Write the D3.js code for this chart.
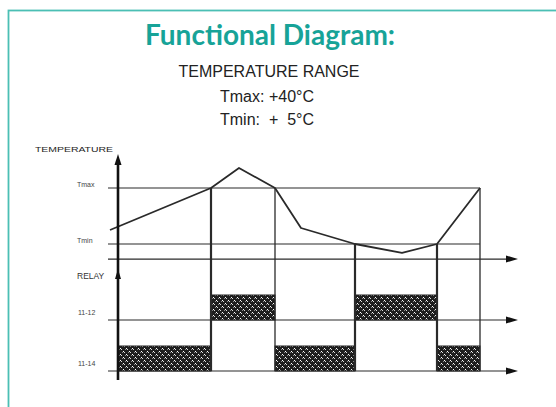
<!DOCTYPE html>
<html>
<head>
<meta charset="utf-8">
<script src="https://cdn.jsdelivr.net/npm/d3@7"></script>
<style>
  html, body { margin: 0; padding: 0; background: #fff; }
  svg { display: block; }
</style>
</head>
<body>
<div id="chart"></div>
<script>
// data
var timePts = [-2, 23.25, 30.25, 39.25, 45.75, 59.25, 71, 79.75, 90.5];
var tempVals = [13.75, 40, 52.5, 40, 15, 5, -0.6, 5, 40];
var levelNames = ["Tmax", "Tmin"];
var levelVals = [40, 5];
var switchTimes = [23.25, 39.25, 59.25, 79.75, 90.5];
var switchLevels = [40, 40, 5, 5, 40];
var relayNames = ["11-12", "11-14"];
var relay1112 = [[23.25, 39.25], [59.25, 79.75]];
var relay1114 = [[0, 23.25], [39.25, 59.25], [79.75, 90.5]];

var svgWidth = 556;
var svgHeight = 407;

var svg = d3.select("#chart")
  .append("svg")
  .attr("width", svgWidth)
  .attr("height", svgHeight);

// hatch pattern for the relay bars (dark with white diamond dots)
var defs = svg.append("defs");
var pat = defs.append("pattern")
  .attr("id", "hatch")
  .attr("patternUnits", "userSpaceOnUse")
  .attr("width", 6)
  .attr("height", 6);
pat.append("rect").attr("width", 6).attr("height", 6).attr("fill", "#1e1e1e");
[[0, 0], [3, 3], [1, 1], [4, 4], [2, 4], [5, 1]].forEach(function(p, i) {
  pat.append("rect")
    .attr("x", p[0]).attr("y", p[1])
    .attr("width", 1).attr("height", 1)
    .attr("fill", i < 2 ? "#fff" : (i < 4 ? "#d8d8d8" : "#8a8a8a"));
});

// teal frame
svg.append("rect")
  .attr("x", 8.5).attr("y", 10.5)
  .attr("width", 600).attr("height", 500)
  .attr("fill", "none")
  .attr("stroke", "#4bbfb4")
  .attr("stroke-width", 1.8);

// header texts
svg.append("text")
  .attr("x", 270).attr("y", 45)
  .attr("text-anchor", "middle")
  .attr("font-family", "Lato, 'Open Sans', sans-serif")
  .attr("font-weight", "bold")
  .attr("font-size", "28px")
  .attr("fill", "#17a398")
  .text("Functional Diagram:");

svg.append("text")
  .attr("x", 269).attr("y", 77)
  .attr("text-anchor", "middle")
  .attr("font-family", "'Liberation Sans', Arial, sans-serif")
  .attr("font-size", "16px")
  .attr("fill", "#222")
  .text("TEMPERATURE RANGE");

svg.append("text")
  .attr("x", 267).attr("y", 102)
  .attr("text-anchor", "middle")
  .attr("font-family", "'Liberation Sans', Arial, sans-serif")
  .attr("font-size", "16px")
  .attr("fill", "#222")
  .text("Tmax: +40°C");

svg.append("text")
  .attr("x", 267).attr("y", 125)
  .attr("text-anchor", "middle")
  .attr("font-family", "'Liberation Sans', Arial, sans-serif")
  .attr("font-size", "16px")
  .attr("fill", "#222")
  .style("white-space", "pre")
  .text("Tmin:  +  5°C");

// scales
var xScale = d3.scaleLinear().domain([0, 100]).range([118, 518]);
var yTemp = d3.scaleLinear().domain([5, 40]).range([244, 188]);
var baseY = yTemp(-4.4);
var yRelay = d3.scalePoint().domain(relayNames).range([320, 371]);
var barH = 25;
var lineEnd = 508;
var levelEnd = xScale(90.5);
var ink = "#2a2a2a";

var g = svg.append("g");

// temperature level lines (Tmax / Tmin)
g.selectAll(".level")
  .data(levelVals)
  .enter()
  .append("line")
  .attr("x1", 108).attr("x2", levelEnd)
  .attr("y1", d => yTemp(d)).attr("y2", d => yTemp(d))
  .attr("stroke", ink).attr("stroke-width", 1.2);

// time axis + relay lines
var hLines = [baseY].concat(relayNames.map(d => yRelay(d)));
g.selectAll(".hline")
  .data(hLines)
  .enter()
  .append("line")
  .attr("x1", 108).attr("x2", lineEnd)
  .attr("y1", d => d).attr("y2", d => d)
  .attr("stroke", ink).attr("stroke-width", 1.2);

// arrowheads on the right
g.selectAll(".rarrow")
  .data(hLines)
  .enter()
  .append("path")
  .attr("d", d => `M${lineEnd - 2},${d - 3.5} L${xScale(100)},${d} L${lineEnd - 2},${d + 3.5} Z`)
  .attr("fill", "#111");

// relay bars
function bars(data, row) {
  g.selectAll(null)
    .data(data)
    .enter()
    .append("rect")
    .attr("x", d => xScale(d[0]))
    .attr("y", yRelay(row) - barH)
    .attr("width", d => xScale(d[1]) - xScale(d[0]))
    .attr("height", barH)
    .attr("fill", "url(#hatch)")
    .attr("stroke", "#222")
    .attr("stroke-width", 1);
}
bars(relay1112, "11-12");
bars(relay1114, "11-14");

// switching lines
g.selectAll(".switch")
  .data(switchTimes)
  .enter()
  .append("line")
  .attr("x1", d => xScale(d)).attr("x2", d => xScale(d))
  .attr("y1", (d, i) => yTemp(switchLevels[i]))
  .attr("y2", yRelay("11-14"))
  .attr("stroke", ink)
  .attr("stroke-width", (d, i) => (i === 1 || i === 4) ? 1.3 : 2.2);

// temperature curve
var curve = d3.line()
  .x(d => xScale(d[0]))
  .y(d => yTemp(d[1]));

g.append("path")
  .datum(timePts.map((t, i) => [t, tempVals[i]]))
  .attr("d", curve)
  .attr("fill", "none")
  .attr("stroke", ink)
  .attr("stroke-width", 1.8)
  .attr("stroke-linejoin", "round");

// vertical axis with arrows
g.append("line")
  .attr("x1", xScale(0)).attr("x2", xScale(0))
  .attr("y1", 160).attr("y2", 380)
  .attr("stroke", "#111")
  .attr("stroke-width", 2.6);

g.append("path")
  .attr("d", `M${xScale(0) - 3.5},165 L${xScale(0)},154 L${xScale(0) + 3.5},165 Z`)
  .attr("fill", "#111");

g.append("path")
  .attr("d", `M${xScale(0) - 3},279 L${xScale(0)},269 L${xScale(0) + 3},279 Z`)
  .attr("fill", "#111");

// small axis labels
var small = "'Liberation Sans', Arial, sans-serif";
g.append("text")
  .attr("x", 35).attr("y", 152)
  .attr("font-family", small).attr("font-size", "8px")
  .attr("fill", "#222")
  .attr("textLength", 78).attr("lengthAdjust", "spacingAndGlyphs")
  .text("TEMPERATURE");

g.append("text")
  .attr("x", 77).attr("y", 279)
  .attr("font-family", small).attr("font-size", "8.5px")
  .attr("fill", "#333")
  .text("RELAY");

g.selectAll(".lvlLabel")
  .data(levelNames)
  .enter()
  .append("text")
  .attr("x", 77)
  .attr("y", (d, i) => yTemp(levelVals[i]) - 1)
  .attr("font-family", small).attr("font-size", "7px")
  .attr("fill", "#444")
  .text(d => d);

g.selectAll(".relayLabel")
  .data(relayNames)
  .enter()
  .append("text")
  .attr("x", 78)
  .attr("y", d => yRelay(d) - 5)
  .attr("font-family", small).attr("font-size", "7px")
  .attr("fill", "#444")
  .text(d => d);
</script>
</body>
</html>
